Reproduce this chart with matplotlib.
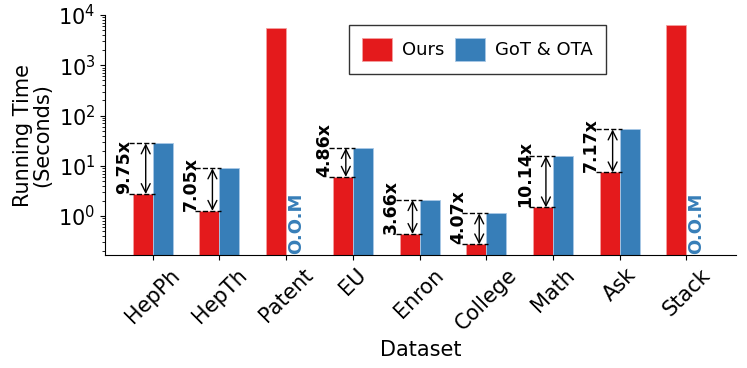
import matplotlib
matplotlib.use("Agg")
import matplotlib.pyplot as plt
import numpy as np

datasets = ["HepPh", "HepTh", "Patent", "EU", "Enron", "College", "Math", "Ask", "Stack"]
ours = [2.74, 1.27, 5590, 6.05, 0.44, 0.273, 1.49, 7.4, 6330]
got_ota = [28.0, 8.9, None, 22.6, 2.08, 1.13, 15.6, 53.0, None]
speedups = ["9.75x", "7.05x", None, "4.86x", "3.66x", "4.07x", "10.14x", "7.17x", None]

red = "#e41a1c"
blue = "#377eb8"

fig = plt.figure(figsize=(7.47, 3.68), dpi=100)
ax = fig.add_axes([0.1406, 0.307, 0.8447, 0.652])

x = np.arange(len(datasets))
w = 0.3
ax.bar(x - w / 2, ours, w, color=red, edgecolor="#f4a0a0", linewidth=0.6, label="Ours")
gx = [xi + w / 2 for xi, g in zip(x, got_ota) if g is not None]
gv = [g for g in got_ota if g is not None]
ax.bar(gx, gv, w, color=blue, edgecolor="#a9c8e6", linewidth=0.6, label="GoT & OTA")

ax.set_yscale("log")
ax.set_ylim(0.168, 1e4)
ax.set_xlim(-0.715, 8.745)

for i, (o, g, s) in enumerate(zip(ours, got_ota, speedups)):
    if g is None:
        ax.text(i + w / 2, 0.18, "O.O.M", rotation=90, color=blue, fontsize=13,
                fontweight="bold", ha="center", va="bottom")
        continue
    ax.hlines([o, g], i - 0.36, i + 0.03, colors="black", linestyles="--", linewidth=1)
    ax.annotate("", xy=(i - 0.105, g), xytext=(i - 0.105, o),
                arrowprops=dict(arrowstyle="<->", color="black", lw=1,
                                shrinkA=0, shrinkB=0, mutation_scale=16))
    ax.text(i - 0.29, o, s, rotation=90, fontsize=12.5, fontweight="bold",
            ha="right", va="bottom")

ax.set_xticks(x)
ax.set_xticklabels(datasets, rotation=45, fontsize=15)
ax.tick_params(axis="y", labelsize=15)
ax.set_xlabel("Dataset", fontsize=15)
ax.set_ylabel("Running Time\n(Seconds)", fontsize=15, linespacing=0.95)
ax.spines["top"].set_visible(False)
ax.spines["right"].set_visible(False)

leg = ax.legend(loc="upper center", bbox_to_anchor=(0.59, 0.958), ncol=2, fontsize=13,
                frameon=True, fancybox=False, edgecolor="black", handlelength=1.67,
                handleheight=1.6, columnspacing=0.6, handletextpad=0.55,
                borderpad=0.7, borderaxespad=0)
leg.get_frame().set_linewidth(1.0)

fig.savefig("out.png", dpi=100)
